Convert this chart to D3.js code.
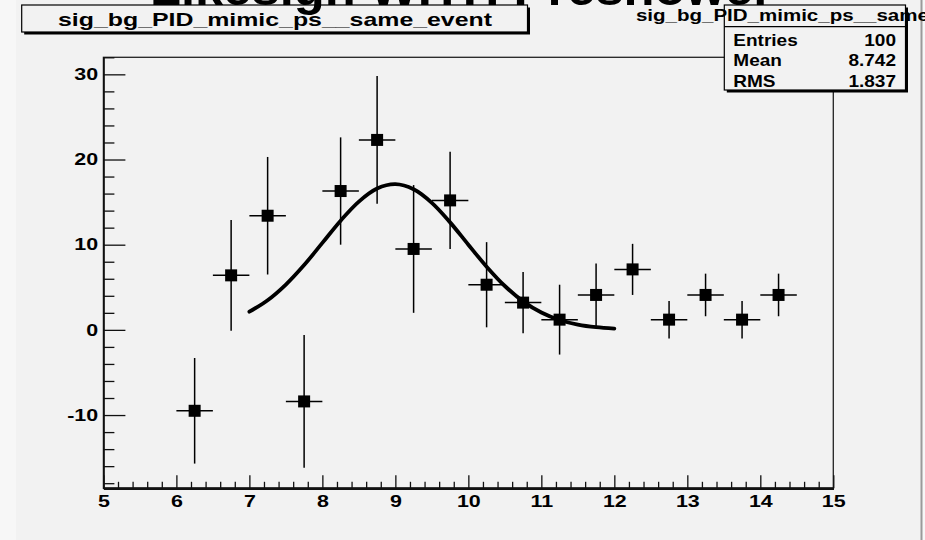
<!DOCTYPE html>
<html>
<head>
<meta charset="utf-8">
<script src="https://cdn.jsdelivr.net/npm/d3@7"></script>
<style>
  html, body { margin: 0; padding: 0; background: #ffffff; }
  svg { display: block; }
  text { font-family: "Liberation Sans", Arial, Helvetica, sans-serif; font-weight: bold; fill: #000; }
</style>
</head>
<body>
<script>
// Histogram bins (centres), contents and errors
const binCenters = [6.25, 6.75, 7.25, 7.75, 8.25, 8.75, 9.25, 9.75, 10.25, 10.75, 11.25, 11.75, 12.25, 12.75, 13.25, 13.75, 14.25];
const binValues  = [-9.5, 6.4, 13.4, -8.4, 16.3, 22.3, 9.5, 15.2, 5.3, 3.2, 1.2, 4.1, 7.1, 1.2, 4.1, 1.2, 4.1];
const binErrors  = [6.2, 6.5, 6.9, 7.8, 6.3, 7.5, 7.5, 5.7, 5.0, 3.6, 4.1, 3.7, 3.0, 2.2, 2.5, 2.2, 2.5];
const binHalfWidth = 0.25;

// Gaussian fit curve, sampled points
const fitX = [7.0, 7.25, 7.5, 7.75, 8.0, 8.25, 8.5, 8.75, 9.0, 9.25, 9.5, 9.75, 10.0, 10.25, 10.5, 10.75, 11.0, 11.25, 11.5, 11.75, 12.0];
const fitY = [2.13, 3.48, 5.32, 7.61, 10.21, 12.82, 15.06, 16.59, 17.10, 16.50, 14.91, 12.62, 10.00, 7.42, 5.15, 3.35, 2.04, 1.16, 0.62, 0.31, 0.15];

// Axis ticks
const xMajorTicks = [5, 6, 7, 8, 9, 10, 11, 12, 13, 14, 15];
const yMajorTicks = [-10, 0, 10, 20, 30];

// Text
const padTitle = "Likesign WITH Preshower";
const histName = "sig_bg_PID_mimic_ps__same_event";
const statLabels = ["Entries", "Mean", "RMS"];
const statValues = ["100", "8.742", "1.837"];

const W = 925, H = 540;
const frame = { left: 103.4, right: 833.3, top: 57.3, bottom: 488.3 };
const padColor = "#f2f2f2";
const stretch = 1.3;

const svg = d3.select("body").append("svg").attr("width", W).attr("height", H);

// pad background and right border
svg.append("rect").attr("x", 0).attr("y", 0).attr("width", W).attr("height", H).attr("fill", "#f7f7f7");
svg.append("rect").attr("x", 16).attr("y", 0).attr("width", 905).attr("height", H).attr("fill", padColor);
svg.append("line").attr("x1", 921.5).attr("x2", 921.5).attr("y1", 0).attr("y2", H)
  .attr("stroke", "#9a9a9a").attr("stroke-width", 2);

const x = d3.scaleLinear().domain([5, 15]).range([frame.left, frame.right]);
const y = d3.scaleLinear().domain([-18.6, 32.0]).range([frame.bottom, frame.top]);
const plainInt = d => String(d);   // ASCII hyphen for negatives

// frame
svg.append("rect")
  .attr("x", frame.left).attr("y", frame.top)
  .attr("width", frame.right - frame.left).attr("height", frame.bottom - frame.top)
  .attr("fill", padColor).attr("stroke", "#222").attr("stroke-width", 1.3);

// x axis: major + minor ticks pointing inward
const xMinor = d3.range(5, 15.0001, 0.2).map(v => +v.toFixed(1)).filter(v => Math.abs(v - Math.round(v)) > 1e-6);
const gxMinor = svg.append("g").attr("transform", `translate(0,${frame.bottom})`)
  .call(d3.axisBottom(x).tickValues(xMinor).tickFormat("").tickSize(-6.5).tickSizeOuter(0));
const gx = svg.append("g").attr("transform", `translate(0,${frame.bottom})`)
  .call(d3.axisBottom(x).tickValues(xMajorTicks).tickFormat(plainInt).tickSize(-13).tickSizeOuter(0).tickPadding(7));
[gxMinor, gx].forEach(g => {
  g.selectAll(".tick line").attr("stroke", "#111").attr("stroke-width", 1.3);
  g.select(".domain").attr("stroke", "#111").attr("stroke-width", 2.6);
});
gx.selectAll(".tick text")
  .attr("font-size", 16.5).attr("transform", `scale(${stretch},1)`);

// y axis: major + minor ticks pointing inward
const yMinor = d3.range(-18, 32.0001, 2).filter(v => v % 10 !== 0);
const gyMinor = svg.append("g").attr("transform", `translate(${frame.left},0)`)
  .call(d3.axisLeft(y).tickValues(yMinor).tickFormat("").tickSize(-11).tickSizeOuter(0));
const gy = svg.append("g").attr("transform", `translate(${frame.left},0)`)
  .call(d3.axisLeft(y).tickValues(yMajorTicks).tickFormat(plainInt).tickSize(-22).tickSizeOuter(0).tickPadding(4));
[gyMinor, gy].forEach(g => {
  g.selectAll(".tick line").attr("stroke", "#111").attr("stroke-width", 1.3);
  g.select(".domain").attr("stroke", "#111").attr("stroke-width", 1.4);
});
gy.selectAll(".tick text")
  .attr("font-size", 16.5).attr("transform", `scale(${stretch},1)`);

// data points with error bars
const pts = binCenters.map((c, i) => ({ c, v: binValues[i], e: binErrors[i] }));
const gPts = svg.append("g");
gPts.selectAll("line.ey").data(pts).join("line").attr("class", "ey")
  .attr("x1", d => x(d.c)).attr("x2", d => x(d.c))
  .attr("y1", d => y(d.v + d.e)).attr("y2", d => y(d.v - d.e))
  .attr("stroke", "#000").attr("stroke-width", 1.5);
gPts.selectAll("line.ex").data(pts).join("line").attr("class", "ex")
  .attr("x1", d => x(d.c - binHalfWidth)).attr("x2", d => x(d.c + binHalfWidth))
  .attr("y1", d => y(d.v)).attr("y2", d => y(d.v))
  .attr("stroke", "#000").attr("stroke-width", 1.5);
const ms = 12;
gPts.selectAll("rect").data(pts).join("rect")
  .attr("x", d => x(d.c) - ms / 2).attr("y", d => y(d.v) - ms / 2)
  .attr("width", ms).attr("height", ms).attr("fill", "#000");

// fit curve
const fit = fitX.map((v, i) => [v, fitY[i]]);
svg.append("path").datum(fit)
  .attr("d", d3.line().x(d => x(d[0])).y(d => y(d[1])).curve(d3.curveCatmullRom))
  .attr("fill", "none").attr("stroke", "#000").attr("stroke-width", 3.8).attr("stroke-linecap", "round");

// histogram name box (with shadow)
function paveBox(x0, y0, x1, y1) {
  svg.append("rect").attr("x", x0 + 2.5).attr("y", y0 + 2.5).attr("width", x1 - x0).attr("height", y1 - y0).attr("fill", "#000");
  svg.append("rect").attr("x", x0).attr("y", y0).attr("width", x1 - x0).attr("height", y1 - y0)
    .attr("fill", padColor).attr("stroke", "#000").attr("stroke-width", 1.2);
}
paveBox(21.7, 5, 527.5, 32);
svg.append("text").attr("x", 275).attr("y", 26).attr("text-anchor", "middle")
  .attr("font-size", 19).attr("textLength", 434).attr("lengthAdjust", "spacingAndGlyphs")
  .text(histName);

// statistics box
const sb = { x0: 724.3, x1: 905.5, y0: 5, y1: 90 };
paveBox(sb.x0, sb.y0, sb.x1, sb.y1);
svg.append("line").attr("x1", sb.x0).attr("x2", sb.x1).attr("y1", 26.7).attr("y2", 26.7)
  .attr("stroke", "#000").attr("stroke-width", 1.2);
svg.append("text").attr("x", (sb.x0 + sb.x1) / 2).attr("y", 21).attr("text-anchor", "middle")
  .attr("font-size", 16).attr("textLength", 358).attr("lengthAdjust", "spacingAndGlyphs")
  .text(histName);
const rowY = [45.7, 66, 87];
statLabels.forEach((lab, i) => {
  svg.append("text").attr("x", 733.3).attr("y", rowY[i]).attr("font-size", 17)
    .attr("transform", `translate(${733.3 * (1 - 1.12)},0) scale(1.12,1)`).text(lab);
  svg.append("text").attr("x", 896).attr("y", rowY[i]).attr("font-size", 17).attr("text-anchor", "end")
    .attr("transform", `translate(${896 * (1 - 1.12)},0) scale(1.12,1)`).text(statValues[i]);
});

// pad title (mostly above the top edge)
svg.append("text").attr("x", 461.5).attr("y", 4.5).attr("text-anchor", "middle")
  .attr("font-size", 49).attr("textLength", 623).attr("lengthAdjust", "spacingAndGlyphs")
  .text(padTitle);
</script>
</body>
</html>
